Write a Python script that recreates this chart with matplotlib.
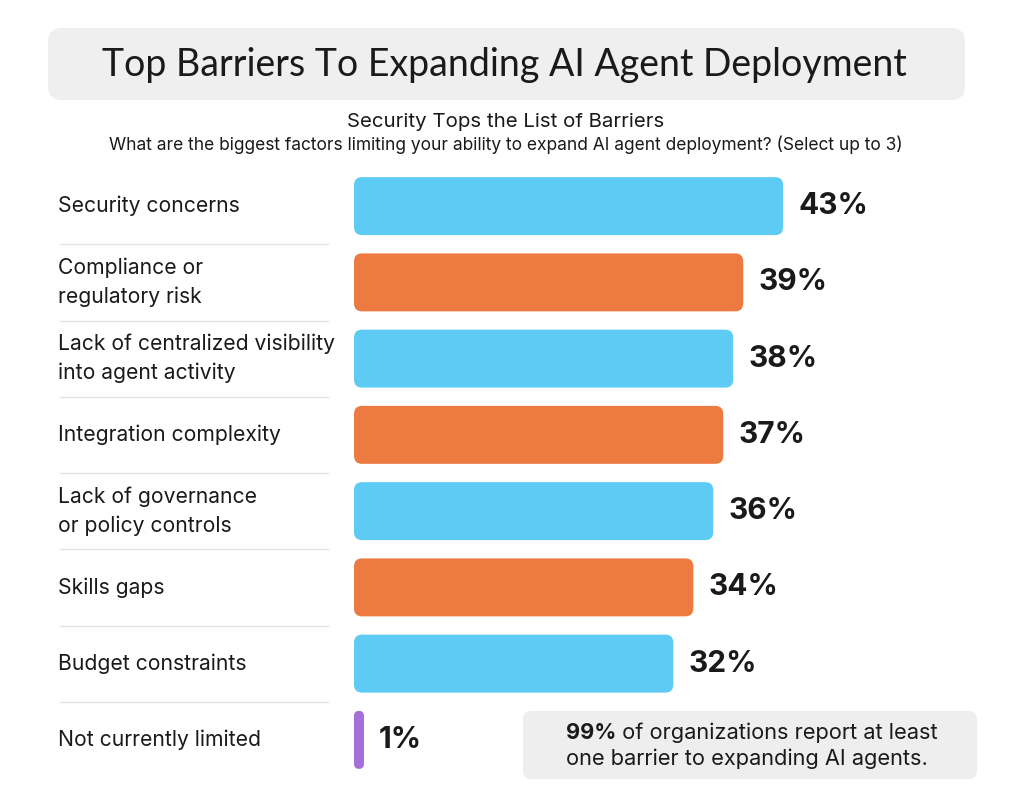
import matplotlib
matplotlib.use("Agg")
import matplotlib.pyplot as plt
from matplotlib.patches import FancyBboxPatch
from matplotlib.transforms import blended_transform_factory

plt.rcParams['font.family'] = ['Inter', 'DejaVu Sans']

# data
categories = [
    "Security concerns",
    "Compliance or\nregulatory risk",
    "Lack of centralized visibility\ninto agent activity",
    "Integration complexity",
    "Lack of governance\nor policy controls",
    "Skills gaps",
    "Budget constraints",
    "Not currently limited",
]
values = [43, 39, 38, 37, 36, 34, 32, 1]
colors = ["#5ECBF5", "#ED7A40", "#5ECBF5", "#ED7A40", "#5ECBF5", "#ED7A40", "#5ECBF5", "#A56FD8"]

title = "Top Barriers To Expanding AI Agent Deployment"
subtitle = "Security Tops the List of Barriers"
question = "What are the biggest factors limiting your ability to expand AI agent deployment? (Select up to 3)"
note_bold = "99%"
note_rest = " of organizations report at least"
note_line2 = "one barrier to expanding AI agents."

W, H = 1024, 809
fig = plt.figure(figsize=(W / 100, H / 100), dpi=100)


def fx(x):
    return x / W


def fy(y):
    return 1 - y / H


# title box
fig.patches.append(FancyBboxPatch((fx(48), fy(100)), fx(917), 72 / H,
                                  boxstyle="round,pad=0,rounding_size=0.014",
                                  mutation_aspect=W / H,
                                  transform=fig.transFigure, facecolor="#EFEFEF",
                                  edgecolor="none", zorder=0))
fig.text(fx(504), fy(65), title, ha="center", va="center", fontsize=27,
         color="#1a1a1a", family=['Lato', 'DejaVu Sans'])
fig.text(fx(506), fy(122), subtitle, ha="center", va="center", fontsize=14.7, color="#1a1a1a")
fig.text(fx(506), fy(145), question, ha="center", va="center", fontsize=12.5, color="#1a1a1a")

# bar axes: left edge at 354px, 1 unit ~ 9.98 px
left, right, top, bottom = 354, 1000, 168, 778
ax = fig.add_axes([fx(left), fy(bottom), fx(right - left), (bottom - top) / H])
xmax = (right - left) / 9.98
ax.set_xlim(0, xmax)
ax.set_ylim(len(values) - 0.5, -0.5)
ax.axis("off")

px_x = (right - left) / xmax
px_y = (bottom - top) / len(values)
bar_h = 0.76
r_px = 8
for i, (v, c) in enumerate(zip(values, colors)):
    r = min(r_px, v * px_x / 2) / px_x
    ax.add_patch(FancyBboxPatch((0, i - bar_h / 2), v, bar_h,
                                boxstyle=f"round,pad=0,rounding_size={r}",
                                mutation_aspect=px_x / px_y,
                                facecolor=c, edgecolor="none"))
    ax.text(v + 15 / px_x, i, f"{v}%", ha="left", va="center",
            fontsize=21.5, fontweight="bold", color="#1a1a1a")

# labels and separators
tr = blended_transform_factory(fig.transFigure, ax.transData)
for i, lab in enumerate(categories):
    fig.text(fx(58), i, lab, transform=tr, ha="left", va="center",
             fontsize=15.2, color="#1a1a1a", linespacing=1.5)
    if i < len(categories) - 1:
        fig.add_artist(plt.Line2D([fx(60), fx(328)], [i + 0.5, i + 0.5],
                                  transform=tr, color="#E3E3E3", lw=1))

# note box
fig.patches.append(FancyBboxPatch((fx(523), fy(779)), fx(454), 68 / H,
                                  boxstyle="round,pad=0,rounding_size=0.008",
                                  mutation_aspect=W / H,
                                  transform=fig.transFigure, facecolor="#EEEEEE",
                                  edgecolor="none", zorder=0))
t1 = fig.text(fx(566), fy(739), note_bold, ha="left", va="baseline",
              fontsize=15.7, fontweight="bold", color="#1a1a1a")
renderer = fig.canvas.get_renderer()
bb = t1.get_window_extent(renderer)
fig.text(bb.x1 / W, fy(739), note_rest, ha="left", va="baseline",
         fontsize=15.7, color="#1a1a1a")
fig.text(fx(566), fy(765), note_line2, ha="left", va="baseline",
         fontsize=15.7, color="#1a1a1a")

fig.savefig("out.png", dpi=100)
